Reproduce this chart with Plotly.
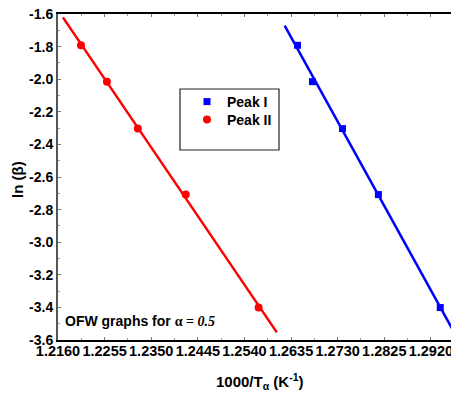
import numpy as np
import plotly.graph_objects as go

# ---- data ----
ln_beta = [-1.792, -2.015, -2.303, -2.708, -3.401]
peak1_x = [1.26482, 1.26787, 1.27398, 1.28130, 1.29391]
peak2_x = [1.22068, 1.22597, 1.23227, 1.24204, 1.25689]
peak1_fit_range = [1.2622, 1.2985]
peak2_fit_range = [1.2170, 1.2606]

x_tick_vals = [1.2160, 1.2255, 1.2350, 1.2445, 1.2540, 1.2635, 1.2730, 1.2825, 1.2920]
x_tick_text = ["1.2160", "1.2255", "1.2350", "1.2445", "1.2540", "1.2635", "1.2730", "1.2825", "1.2920"]
y_tick_vals = [-1.6, -1.8, -2.0, -2.2, -2.4, -2.6, -2.8, -3.0, -3.2, -3.4, -3.6]
y_tick_text = ["-1.6", "-1.8", "-2.0", "-2.2", "-2.4", "-2.6", "-2.8", "-3.0", "-3.2", "-3.4", "-3.6"]

FONT = "Liberation Sans, Arial, sans-serif"
W, H = 451, 394
L, R, T, B = 58, 0, 14, 54
pw, ph = W - L - R, H - T - B

def px(x):
    return (x - L) / pw

def py(y):
    return (H - B - y) / ph

fig = go.Figure()

# fitted lines
for xs, ys, rng, col in [(peak1_x, ln_beta, peak1_fit_range, "#0000ff"),
                         (peak2_x, ln_beta, peak2_fit_range, "#ff0000")]:
    m, c = np.polyfit(xs, ys, 1)
    fx = np.array(rng)
    fig.add_trace(go.Scatter(x=fx, y=m * fx + c, mode="lines",
                             line=dict(color=col, width=2.5),
                             showlegend=False, hoverinfo="skip", cliponaxis=True))

fig.add_trace(go.Scatter(x=peak1_x, y=ln_beta, mode="markers", name="Peak I", legend="legend",
                         marker=dict(symbol="square", size=7, color="#0000ff")))
fig.add_trace(go.Scatter(x=peak2_x, y=ln_beta, mode="markers", name="Peak II", legend="legend2",
                         marker=dict(symbol="circle", size=8, color="#ff0000")))

leg_common = dict(xanchor="left", yanchor="middle", bgcolor="rgba(0,0,0,0)", borderwidth=0,
                  font=dict(family=FONT, size=14, color="black", weight="bold"))

fig.update_layout(
    width=W, height=H,
    margin=dict(l=L, r=R, t=T, b=B, autoexpand=False),
    plot_bgcolor="white", paper_bgcolor="white",
    font=dict(family=FONT, size=14, color="black"),
    showlegend=True,
    legend=dict(x=px(187), y=py(102), **leg_common),
    legend2=dict(x=px(187), y=py(120), **leg_common),
    xaxis=dict(range=[1.2160, 1.2961], tickvals=x_tick_vals, ticktext=x_tick_text,
               showgrid=False, zeroline=False, showline=True, linecolor="black", linewidth=2,
               mirror="allticks", ticks="inside", ticklen=3, tickcolor="#777",
               tickfont=dict(family=FONT, size=14.5, weight="bold"), tickangle=0,
               ticklabeloverflow="allow", ticklabelstandoff=-3,
               minor=dict(dtick=0.00475, tick0=1.2160, ticks="inside", ticklen=2, tickcolor="#999"),
               automargin=False, fixedrange=True),
    yaxis=dict(range=[-3.6, -1.6], tickvals=y_tick_vals, ticktext=y_tick_text,
               showgrid=False, zeroline=False, showline=True, linecolor="#555", linewidth=2,
               ticks="inside", ticklen=3, tickcolor="#777",
               tickfont=dict(family=FONT, size=14, weight="bold"),
               ticklabeloverflow="allow",
               minor=dict(dtick=0.1, tick0=-3.6, ticks="inside", ticklen=2, tickcolor="#999"),
               automargin=False, fixedrange=True),
)

# legend box
fig.add_shape(type="rect", xref="paper", yref="paper",
              x0=px(180), x1=px(279), y0=py(150), y1=py(89),
              line=dict(color="#222", width=1.2), fillcolor="rgba(0,0,0,0)", layer="below")

# annotations
fig.add_annotation(xref="paper", yref="paper", x=px(63), y=py(321), xanchor="left", yanchor="middle",
                   showarrow=False,
                   text="<b>OFW graphs for </b><span style='font-family:Liberation Serif, Times New Roman, serif'><b>α = <i>0.5</i></b></span>",
                   font=dict(family=FONT, size=14, color="black"))
fig.add_annotation(xref="paper", yref="paper", x=px(260), y=py(381), xanchor="center", yanchor="middle",
                   showarrow=False,
                   text="<b>1000/T<sub>α</sub> (K<sup>-1</sup>)</b>",
                   font=dict(family=FONT, size=15, color="black"))
fig.add_annotation(xref="paper", yref="paper", x=px(18), y=py(180), xanchor="center", yanchor="middle",
                   showarrow=False, textangle=-90,
                   text="<b>ln (β)</b>",
                   font=dict(family=FONT, size=15, color="black"))

fig.write_html("out.html", config=dict(displayModeBar=False))
